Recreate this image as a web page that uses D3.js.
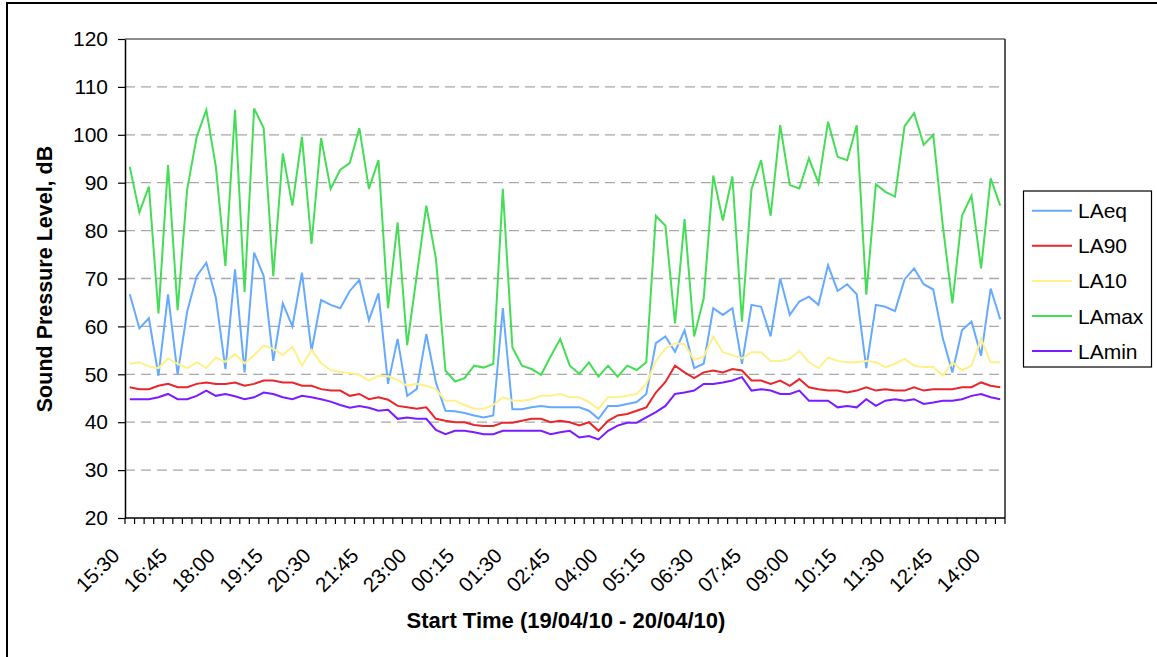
<!DOCTYPE html>
<html><head><meta charset="utf-8">
<script src="https://cdn.jsdelivr.net/npm/d3@7"></script>
<style>
html,body{margin:0;padding:0;background:#fff;}
svg{display:block;font-family:"Liberation Sans",Arial,sans-serif;}
</style></head>
<body><svg id="chart" width="1157" height="657"></svg>
<script>
const categories = ["15:30","15:45","16:00","16:15","16:30","16:45","17:00","17:15","17:30","17:45",
"18:00","18:15","18:30","18:45","19:00","19:15","19:30","19:45","20:00","20:15",
"20:30","20:45","21:00","21:15","21:30","21:45","22:00","22:15","22:30","22:45",
"23:00","23:15","23:30","23:45","00:00","00:15","00:30","00:45","01:00","01:15",
"01:30","01:45","02:00","02:15","02:30","02:45","03:00","03:15","03:30","03:45",
"04:00","04:15","04:30","04:45","05:00","05:15","05:30","05:45","06:00","06:15",
"06:30","06:45","07:00","07:15","07:30","07:45","08:00","08:15","08:30","08:45",
"09:00","09:15","09:30","09:45","10:00","10:15","10:30","10:45","11:00","11:15",
"11:30","11:45","12:00","12:15","12:30","12:45","13:00","13:15","13:30","13:45",
"14:00","14:15"];
const tickLabels = ["15:30","16:45","18:00","19:15","20:30","21:45","23:00","00:15","01:30","02:45",
"04:00","05:15","06:30","07:45","09:00","10:15","11:30","12:45","14:00"];
const yTicks = [20,30,40,50,60,70,80,90,100,110,120];

const LAeq = [66.7,59.6,61.7,49.7,66.7,50.0,63.1,70.5,73.3,66.0,51.1,71.9,50.4,75.4,70.5,52.8,64.8,60.0,71.2,54.9,
65.5,64.5,63.8,67.4,69.7,61.3,66.9,48.0,57.4,45.5,46.9,58.4,48.3,42.4,42.3,41.9,41.4,41.0,41.4,63.8,
42.7,42.7,43.1,43.4,43.1,43.1,43.1,43.1,42.4,40.7,43.4,43.4,43.8,44.2,45.9,56.5,57.9,54.7,59.2,51.3,
52.2,63.8,62.4,63.8,52.2,64.5,64.1,57.9,70.0,62.4,65.2,66.2,64.5,72.8,67.4,68.8,66.7,51.3,64.5,64.1,
63.2,69.8,72.1,68.8,67.7,57.5,50.4,59.2,61.0,53.9,67.9,61.5];
const LA90 = [47.3,46.9,46.9,47.6,48.0,47.3,47.3,48.0,48.3,48.0,48.0,48.3,47.6,48.0,48.7,48.7,48.3,48.3,47.6,47.6,
46.9,46.6,46.6,45.5,45.9,44.8,45.2,44.7,43.4,43.1,42.8,43.1,40.7,40.3,40.0,40.0,39.4,39.2,39.2,39.9,
39.9,40.3,40.7,40.7,40.0,40.3,40.0,39.3,40.0,38.2,40.3,41.4,41.7,42.4,43.1,46.2,48.4,51.8,50.4,49.2,
50.4,50.8,50.4,51.1,50.8,48.7,48.7,48.0,48.7,47.6,49.0,47.3,46.9,46.6,46.6,46.2,46.6,47.3,46.6,46.9,
46.6,46.6,47.3,46.6,46.9,46.9,46.9,47.3,47.3,48.3,47.6,47.3];
const LA10 = [52.2,52.5,51.6,51.3,53.3,52.2,51.3,52.5,51.3,53.5,52.6,54.2,52.3,54.0,56.0,55.3,54.0,55.8,51.8,55.1,
52.3,50.9,50.5,50.2,49.9,48.7,49.7,49.6,48.8,47.6,48.0,47.6,46.9,44.5,44.5,43.6,42.8,42.8,43.6,45.2,
44.5,44.5,44.8,45.5,45.5,45.9,45.2,45.2,44.2,42.8,45.2,45.2,45.5,45.9,48.0,52.8,55.4,56.5,56.3,53.0,
53.7,57.9,54.6,54.0,53.3,54.6,54.6,52.8,52.8,53.2,54.9,52.5,51.3,53.5,52.8,52.5,52.5,52.8,52.5,51.5,
52.2,53.2,51.8,51.5,51.5,49.7,52.5,50.8,51.8,57.4,52.5,52.5];
const LAmax = [93.3,83.8,89.2,62.7,93.7,63.4,88.6,99.6,105.2,93.3,72.6,105.2,67.2,105.5,101.4,70.5,96.1,85.2,99.6,77.2,
99.3,88.7,92.7,94.1,101.4,88.7,94.7,63.8,81.7,56.1,70.6,85.2,74.2,50.8,48.5,49.2,51.8,51.4,52.2,88.7,
55.6,51.8,51.1,49.9,53.7,57.4,51.8,50.1,52.5,49.5,51.8,49.5,51.8,50.9,52.5,83.1,81.0,60.6,82.4,57.9,
65.8,91.5,82.1,91.3,61.0,88.7,94.7,83.1,102.0,89.5,88.8,95.1,89.9,102.7,95.4,94.7,102.0,66.6,89.7,88.1,
87.1,101.8,104.5,97.9,100.0,81.0,64.8,83.1,87.3,72.1,90.9,85.2];
const LAmin = [44.8,44.8,44.8,45.2,45.9,44.8,44.8,45.5,46.6,45.5,45.9,45.4,44.8,45.2,46.2,45.9,45.2,44.8,45.5,45.2,
44.8,44.3,43.6,43.0,43.4,43.0,42.4,42.6,40.7,41.0,40.7,40.7,38.4,37.5,38.2,38.2,37.9,37.5,37.5,38.2,
38.2,38.2,38.2,38.2,37.5,37.9,38.2,36.8,37.1,36.4,38.2,39.3,39.9,39.9,41.0,42.1,43.4,45.9,46.2,46.6,
48.0,48.0,48.3,48.7,49.4,46.6,46.9,46.6,45.9,45.9,46.6,44.5,44.5,44.5,43.1,43.4,43.1,44.8,43.4,44.5,
44.8,44.5,44.8,43.8,44.1,44.5,44.5,44.8,45.5,45.9,45.2,44.8];

const seriesNames = ["LAeq","LA90","LA10","LAmax","LAmin"];
const seriesValues = [LAeq, LA90, LA10, LAmax, LAmin];
const seriesColors = ["#66aaff","#e8262c","#fff08a","#44dd55","#7a1cff"];

const svg = d3.select("#chart");
const L = 125, R = 1005, T = 39, B = 518;
const x = d3.scaleBand().domain(categories).range([L, R]).padding(0);
const y = d3.scaleLinear().domain([20,120]).range([B, T]);
const cx = c => x(c) + x.bandwidth()/2;

// outer chart border (only left/top visible)
svg.append("rect").attr("x",7).attr("y",3).attr("width",1200).attr("height",700)
  .attr("fill","none").attr("stroke","#000").attr("stroke-width",2);

// gridlines
svg.append("g").selectAll("line").data(yTicks.filter(v=>v>20 && v<120)).join("line")
  .attr("x1",L).attr("x2",R).attr("y1",d=>y(d)).attr("y2",d=>y(d))
  .attr("stroke","#a8a8a8").attr("stroke-width",1.3).attr("stroke-dasharray","10,6");

// plot border top/right
svg.append("line").attr("x1",L).attr("x2",R).attr("y1",T).attr("y2",T).attr("stroke","#666").attr("stroke-width",1.5);
svg.append("line").attr("x1",R).attr("x2",R).attr("y1",T).attr("y2",B).attr("stroke","#222").attr("stroke-width",1.5);

// lines
const line = d3.line().x((d,i)=>cx(categories[i])).y(d=>y(d));
seriesValues.forEach((vals,k)=>{
  svg.append("path").datum(vals).attr("d",line).attr("fill","none")
    .attr("stroke",seriesColors[k]).attr("stroke-width",2).attr("stroke-linejoin","miter");
});

// y axis
const yAxis = d3.axisLeft(y).tickValues(yTicks).tickSize(7).tickSizeOuter(0).tickPadding(10);
const gy = svg.append("g").attr("transform",`translate(${L},0)`).call(yAxis);
gy.select(".domain").attr("stroke","#000").attr("stroke-width",1.5);
gy.selectAll(".tick line").attr("stroke","#000").attr("stroke-width",1.2);
gy.selectAll("text").attr("font-size",21).attr("fill","#000").attr("font-family","Liberation Sans, Arial, sans-serif");

// x axis line and ticks at category boundaries
svg.append("line").attr("x1",L).attr("x2",R).attr("y1",B).attr("y2",B).attr("stroke","#000").attr("stroke-width",1.5);
const bounds = categories.map(c=>x(c)).concat([R]);
svg.append("g").selectAll("line").data(bounds).join("line")
  .attr("x1",d=>d).attr("x2",d=>d).attr("y1",B).attr("y2",B+6).attr("stroke","#000").attr("stroke-width",1.2);

// x tick labels
svg.append("g").selectAll("text").data(tickLabels).join("text")
  .attr("transform",d=>`translate(${cx(d)-9},557) rotate(-45)`)
  .attr("text-anchor","end").attr("font-size",20.5).attr("fill","#000").text(d=>d);

// axis titles
svg.append("text").attr("transform","translate(52,279) rotate(-90)").attr("text-anchor","middle")
  .attr("font-size",21.5).attr("font-weight","bold").text("Sound Pressure Level, dB");
svg.append("text").attr("x",566).attr("y",628).attr("text-anchor","middle")
  .attr("font-size",22).attr("font-weight","bold").text("Start Time (19/04/10 - 20/04/10)");

// legend
const lg = svg.append("g");
lg.append("rect").attr("x",1023.5).attr("y",191).attr("width",128).attr("height",176)
  .attr("fill","#fff").attr("stroke","#000").attr("stroke-width",1.2);
seriesNames.forEach((n,k)=>{
  const yy = 210.7 + k*35.1;
  lg.append("line").attr("x1",1032).attr("x2",1072).attr("y1",yy).attr("y2",yy)
    .attr("stroke",seriesColors[k]).attr("stroke-width",2);
  lg.append("text").attr("x",1078).attr("y",yy+7.5).attr("font-size",21).attr("fill","#000").text(n);
});
</script></body></html>
